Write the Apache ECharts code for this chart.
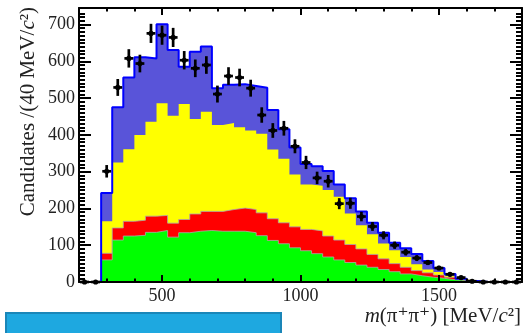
<!DOCTYPE html>
<html>
<head>
<meta charset="utf-8">
<script src="https://cdn.jsdelivr.net/npm/echarts@6/dist/echarts.min.js"></script>
<style>
  html, body { margin: 0; padding: 0; background: #fff; }
  #chart { width: 529px; height: 333px; }
</style>
</head>
<body>
<div id="chart"></div>
<script>
// m(pi+ pi+) spectrum: 40 bins of 40 MeV/c^2 from 200 to 1800
const binLow = 200;
const binWidth = 40;
const nBins = 40;

// Fit components per bin (stacked bottom to top)
const green  = [0,0,60,114,125,127,135,140,122,134,138,140,138,138,138,134,126,113,104,93,85,77,68,60,53,46,40,34,28,22,17,13,10,6,4,2,0,0,0,0];
const red    = [0,0,18,33,40,41,44,41,38,36,47,52,54,59,63,63,62,59,57,57,58,62,57,54,49,44,35,29,22,18,14,12,9,7,3,1,0,0,0,0];
const yellow = [0,0,87,178,196,232,257,305,292,314,258,271,235,235,220,215,215,188,174,142,122,123,125,118,84,64,55,42,36,28,17,9,8,3,1,0,0,0,0,0];
const purple = [0,0,77,150,195,211,172,215,179,101,183,177,100,104,117,121,125,108,80,74,56,53,52,33,42,38,31,29,21,24,28,23,11,6,1,0,0,0,0,0];

// Observed candidates per bin and their uncertainties
const counts = [0,0,301,529,608,594,676,671,665,603,581,590,511,560,556,527,454,412,418,369,325,283,274,213,214,178,151,127,100,81,65,53,38,21,12,2,0,0,0,0];
const errors = [0,0,17,23,25,24,26,26,26,25,24,24,23,24,24,23,21,20,20,19,18,17,17,15,15,13,12,11,10,9,8,7,6,5,3,1,0,0,0,0];

// Axis ticks
const xMajor = [500, 1000, 1500];
const xMinor = [300, 400, 600, 700, 800, 900, 1100, 1200, 1300, 1400, 1600, 1700];
const yMajor = [0, 100, 200, 300, 400, 500, 600, 700];
const yMinor = [];
for (let v = 10; v < 740; v += 10) if (v % 100 !== 0) yMinor.push(v);

const edges = [];
for (let k = 0; k <= nBins; k++) edges.push(binLow + k * binWidth);
const centers = edges.slice(0, nBins).map(e => e + binWidth / 2);

// cumulative tops of the stacked components
function cumulate(layers) {
  return edges.slice(0, nBins).map((_, k) => layers.reduce((s, arr) => s + arr[k], 0));
}
const topGreen = cumulate([green]);
const topRed = cumulate([green, red]);
const topYellow = cumulate([green, red, yellow]);
const topTotal = cumulate([green, red, yellow, purple]);

function stepData(tops) {
  const d = tops.map((v, k) => [edges[k], v]);
  d.push([edges[nBins], tops[nBins - 1]]);
  return d;
}

const FONT = 'Liberation Serif, DejaVu Serif, serif';
const X0 = 200, X1 = 1800, Y0 = 0, Y1 = 745;
const plain = v => String(v);

function xAx(pos, ticks, len, showLabel, showLine) {
  return {
    type: 'value', position: pos, min: X0, max: X1, z: 10,
    axisLine: { show: showLine, onZero: false, lineStyle: { color: '#000', width: 2 } },
    axisTick: { show: true, inside: true, length: len, customValues: ticks, lineStyle: { color: '#000', width: 2 } },
    axisLabel: { show: showLabel, customValues: ticks, formatter: plain, margin: 5, color: '#222', fontFamily: FONT, fontSize: 18 },
    splitLine: { show: false }
  };
}
function yAx(pos, ticks, len, showLabel, showLine) {
  return {
    type: 'value', position: pos, min: Y0, max: Y1, z: 10,
    axisLine: { show: showLine, onZero: false, lineStyle: { color: '#000', width: 2 } },
    axisTick: { show: true, inside: true, length: len, customValues: ticks, lineStyle: { color: '#000', width: 2 } },
    axisLabel: { show: showLabel, customValues: ticks, formatter: plain, margin: 4, color: '#222', fontFamily: FONT, fontSize: 18 },
    splitLine: { show: false }
  };
}

function layer(name, tops, fill, line, z) {
  return {
    name: name, type: 'line', step: 'end', data: stepData(tops),
    xAxisIndex: 0, yAxisIndex: 0, showSymbol: false, symbol: 'none',
    lineStyle: line ? { color: line, width: 1 } : { width: 0 },
    areaStyle: { color: fill, opacity: 1, origin: 'start' },
    z: z, silent: true, animation: false
  };
}

const halfW = 16;
const chart = echarts.init(document.getElementById('chart'), null, { renderer: 'canvas' });
chart.setOption({
  animation: false,
  grid: { left: 79, top: 8, width: 443, height: 274, show: false },
  xAxis: [
    xAx('bottom', xMajor, 7, true, true),
    xAx('bottom', xMinor, 3.5, false, false),
    xAx('top', xMajor, 7, false, true),
    xAx('top', xMinor, 3.5, false, false)
  ],
  yAxis: [
    yAx('left', yMajor, 12, true, true),
    yAx('left', yMinor, 6, false, false),
    yAx('right', yMajor, 12, false, true),
    yAx('right', yMinor, 6, false, false)
  ],
  series: [
    layer('total', topTotal, '#5954d9', null, 2),
    layer('yellow', topYellow, '#ffff00', null, 3),
    layer('red', topRed, '#ff0000', 'rgba(170,170,170,0.8)', 4),
    layer('green', topGreen, '#00ff00', 'rgba(170,170,170,0.8)', 5),
    {
      name: 'outline', type: 'line', step: 'end', data: stepData(topTotal),
      showSymbol: false, symbol: 'none', z: 6, silent: true,
      lineStyle: { color: '#0000ff', width: 2 }
    },
    {
      name: 'data', type: 'custom', coordinateSystem: 'cartesian2d', z: 8, clip: false,
      data: counts.map((v, i) => [centers[i], v, errors[i]]),
      encode: { x: 0, y: 1 },
      renderItem: function (params, api) {
        const x = api.value(0), y = api.value(1), e = api.value(2);
        const c = api.coord([x, y]);
        const t = api.coord([x, y + e]);
        const b = api.coord([x, y - e]);
        const l = api.coord([x - halfW, y]);
        const r = api.coord([x + halfW, y]);
        const st = { stroke: '#000', lineWidth: 2.7 };
        return {
          type: 'group', children: [
            { type: 'line', shape: { x1: c[0], y1: t[1], x2: c[0], y2: b[1] }, style: st },
            { type: 'line', shape: { x1: l[0], y1: c[1], x2: r[0], y2: c[1] }, style: st },
            { type: 'circle', shape: { cx: c[0], cy: c[1], r: 2.6 }, style: { fill: '#000' } }
          ]
        };
      }
    }
  ],
  graphic: [
    {
      type: 'text', x: 28, y: 7, rotation: Math.PI / 2,
      style: {
        text: 'Candidates /(40 MeV/{i|c}²)',
        fontFamily: FONT, fontSize: 21, fill: '#222',
        align: 'right', verticalAlign: 'middle',
        rich: { i: { fontStyle: 'italic', fontFamily: FONT, fontSize: 21, fill: '#222' } }
      }
    },
    {
      type: 'text', x: 521, y: 316,
      style: {
        text: '{i|m}(π⁺π⁺) [MeV/{i|c}²]',
        fontFamily: FONT, fontSize: 21, fill: '#222',
        align: 'right', verticalAlign: 'middle',
        rich: { i: { fontStyle: 'italic', fontFamily: FONT, fontSize: 21, fill: '#222' } }
      }
    },
    {
      type: 'rect', shape: { x: 6, y: 313, width: 275, height: 30 },
      style: { fill: '#1ea8e0', stroke: '#1a86b8', lineWidth: 2 }
    }
  ]
});
</script>
</body>
</html>
